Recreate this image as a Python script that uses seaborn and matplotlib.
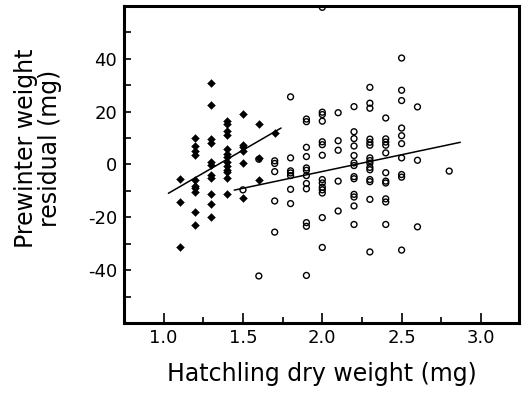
import numpy as np
import pandas as pd
import matplotlib
matplotlib.use("Agg")
import matplotlib.pyplot as plt
import seaborn as sns
from matplotlib.ticker import FixedLocator, MultipleLocator

# --- données ---
# poids sec des jeunes (mg) / résidu du poids avant l'hiver (mg)
diam_x = [1.1, 1.1, 1.1,
          1.2, 1.2, 1.2, 1.2, 1.2, 1.2, 1.2, 1.2, 1.2, 1.2,
          1.3, 1.3, 1.3, 1.3, 1.3, 1.3, 1.3, 1.3, 1.3, 1.3, 1.3,
          1.4, 1.4, 1.4, 1.4, 1.4, 1.4, 1.4, 1.4, 1.4, 1.4, 1.4, 1.4, 1.4,
          1.5, 1.5, 1.5, 1.5, 1.5, 1.5,
          1.6, 1.6, 1.6,
          1.7]
diam_y = [-5.4, -14.2, -31.4,
          10, 7, 5, 3.5, -6, -8, -9, -10.3, -18, -22.8,
          31, 22.5, 9.5, 8, 0.8, -0.3, -4, -5, -11, -14.8, -20,
          16.5, 15.5, 12.5, 11, 6, 4, 3, 1, -0.5, -2, -3, -5.2, -11.3,
          19, 7.5, 6.5, 5, 0.5, -12.6,
          15.5, 2.5, -5.7,
          11.8]

circ_x = [1.5,
          1.6, 1.6,
          1.7, 1.7, 1.7, 1.7, 1.7,
          1.8, 1.8, 1.8, 1.8, 1.8, 1.8, 1.8,
          1.9, 1.9, 1.9, 1.9, 1.9, 1.9, 1.9, 1.9, 1.9, 1.9, 1.9, 1.9,
          2.0, 2.0, 2.0, 2.0, 2.0, 2.0, 2.0, 2.0, 2.0, 2.0, 2.0, 2.0, 2.0, 2.0,
          2.1, 2.1, 2.1, 2.1, 2.1,
          2.2, 2.2, 2.2, 2.2, 2.2, 2.2, 2.2, 2.2, 2.2, 2.2, 2.2, 2.2, 2.2,
          2.3, 2.3, 2.3, 2.3, 2.3, 2.3, 2.3, 2.3, 2.3, 2.3, 2.3, 2.3, 2.3, 2.3, 2.3,
          2.4, 2.4, 2.4, 2.4, 2.4, 2.4, 2.4, 2.4, 2.4, 2.4, 2.4,
          2.5, 2.5, 2.5, 2.5, 2.5, 2.5, 2.5, 2.5, 2.5, 2.5,
          2.6, 2.6, 2.6,
          2.8]
circ_y = [-9.6,
          2.0, -42.2,
          1.4, 0.4, -2.7, -13.8, -25.6,
          25.6, 2.5, -2.4, -3.2, -4.2, -9.4, -14.8,
          17.2, 16.2, 6.5, 3.0, -1.3, -2.2, -4.2, -7.2, -9.2, -22, -23.4, -42,
          59.5, 19.8, 18.9, 16.4, 8.6, 7.5, 3.5, -5.7, -7.0, -8.6, -9.6, -10.8, -20.1, -31.4,
          19.6, 9.0, 5.4, -6.3, -17.6,
          21.9, 12.4, 9.8, 7.0, 3.4, 0.6, -0.4, -4.6, -5.4, -11.3, -12.3, -15.7, -22.7,
          29.2, 23.2, 21.3, 9.6, 8.4, 7.3, 2.5, 1.5, 0.5, -1.1, -2.0, -5.7, -6.5, -13.2, -33.1,
          17.6, 9.7, 8.5, 7.3, 4.4, -3.1, -6.3, -7.0, -13.0, -14.2, -22.7,
          40.3, 28.1, 24.2, 13.8, 10.9, 7.9, 2.5, -3.8, -4.8, -32.4,
          21.8, 1.6, -23.6,
          -2.5]

# droites de régression (extrémités)
diam_line_x = [1.03, 1.74]
diam_line_y = [-10.9, 13.8]
circ_line_x = [1.445, 2.87]
circ_line_y = [-9.7, 8.4]

y_ticks = [-40, -20, 0, 20, 40]
x_ticks = [1.0, 1.5, 2.0, 2.5, 3.0]

# --- figure ---
sns.set_style("ticks")
plt.rcParams['font.family'] = ['DejaVu Sans']
plt.rcParams['text.color'] = 'black'
plt.rcParams['axes.labelcolor'] = 'black'
plt.rcParams['xtick.color'] = 'black'
plt.rcParams['ytick.color'] = 'black'

df_d = pd.DataFrame({'x': diam_x, 'y': diam_y})
df_c = pd.DataFrame({'x': circ_x, 'y': circ_y})

fig = plt.figure(figsize=(5.26, 3.94), dpi=100)
ax = fig.add_axes([0.2357, 0.1802, 0.7510, 0.8046])

sns.scatterplot(data=df_d, x='x', y='y', ax=ax, marker='D', s=16,
                color='black', edgecolor='black', linewidth=0.3, zorder=3)
sns.scatterplot(data=df_c, x='x', y='y', ax=ax, marker='o', s=18,
                facecolors='none', edgecolor='black', linewidth=1.0, zorder=3)

ax.plot(diam_line_x, diam_line_y, color='black', lw=1.1, zorder=2)
ax.plot(circ_line_x, circ_line_y, color='black', lw=1.1, zorder=2)

ax.set_xlim(0.75, 3.24)
ax.set_ylim(-60, 60)

ax.xaxis.set_major_locator(FixedLocator(x_ticks))
ax.xaxis.set_minor_locator(MultipleLocator(0.25))
ax.yaxis.set_major_locator(FixedLocator(y_ticks))
ax.yaxis.set_minor_locator(MultipleLocator(10))
ax.set_xticklabels([f'{v:.1f}' for v in x_ticks])
ax.set_yticklabels([str(v) for v in y_ticks])

ax.tick_params(axis='both', which='both', direction='in', width=1.2,
               labelsize=13, color='black', labelcolor='black')
ax.tick_params(axis='x', which='major', length=7, pad=4)
ax.tick_params(axis='x', which='minor', length=4)
ax.tick_params(axis='y', which='major', length=5, pad=5)
ax.tick_params(axis='y', which='minor', length=5)

for sp in ax.spines.values():
    sp.set_linewidth(2.2)
    sp.set_color('black')

ax.set_xlabel('Hatchling dry weight (mg)', fontsize=17, labelpad=11)
ax.set_ylabel('Prewinter weight\nresidual (mg)', fontsize=17, linespacing=1.0)
ax.yaxis.set_label_coords(-0.157, 0.55)

plt.savefig('out.png', dpi=100)
